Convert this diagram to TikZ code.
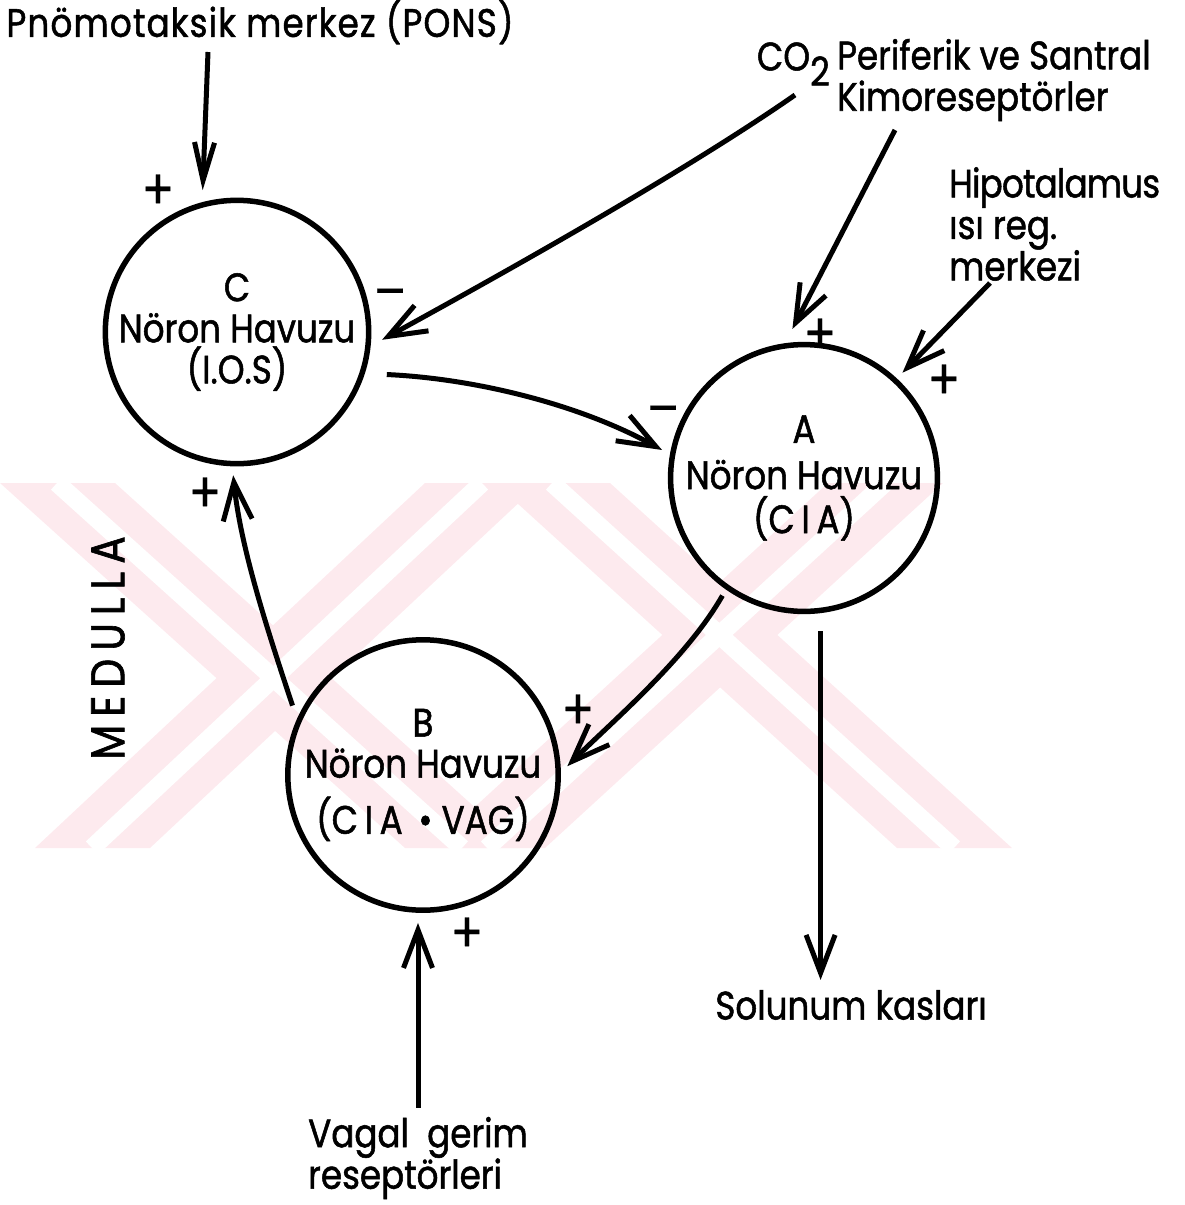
\documentclass[tikz,border=0pt]{standalone}
\usepackage{fontspec}
\setmainfont[FakeStretch=0.86,FakeBold=1.3,AutoFakeBold=1.3]{Poppins}
\usetikzlibrary{arrows.meta,calc}
\definecolor{filigran}{RGB}{253,234,238}
\tikzset{
  havuz/.style={circle, draw, line width=0.55mm, inner sep=0pt, align=center,
    font=\fontsize{11.3}{11.7}\selectfont},
  ok/.style={-{Straight Barb[length=3.8mm,width=2.9mm]}, line width=0.5mm},
  yazi/.style={inner sep=1pt, font=\fontsize{11.3}{11.8}\selectfont},
  isaret/.style={inner sep=0pt, font=\fontsize{16}{16}\selectfont\addfontfeature{FakeBold=0.2}},
}
\begin{document}
\begin{tikzpicture}[x=0.1mm,y=-0.1mm]
  \useasboundingbox (0,0) rectangle (1184,1205);
  % filigran
  \fill[filigran] (0,483) -- (115,483) -- (520,848) -- (405,848) -- cycle;
  \fill[filigran] (425,483) -- (540,483) -- (150,848) -- (35,848) -- cycle;
  \fill[filigran] (495,483) -- (610,483) -- (1012,848) -- (897,848) -- cycle;
  \fill[filigran] (828,483) -- (943,483) -- (545,848) -- (430,848) -- cycle;
  \foreach \u/\v in {57/462,482/92,552/954,885/487}
    \draw[white, line width=1.8mm] (\u,483) -- (\v,848);

  % noron havuzlari
  \node[havuz, minimum size=25.6mm] (C) at (237,332) {C\\Nöron Havuzu\\(I.O.S)};
  \node[havuz, minimum size=26.2mm] (A) at (804,478) {A\\[0.5mm]Nöron Havuzu\\[0.3mm](C\,I\,A)};
  \node[havuz, minimum size=26.2mm] (B) at (423,775) {B\\Nöron Havuzu\\[1.5mm](C\,I\,A\, • VAG)};

  % yazilar
  \node[yazi] (pons) at (260,22) {\addfontfeature{LetterSpace=3}Pnömotaksik merkez (PONS)};
  \node[yazi, align=left, anchor=west] (kemo) at (833,80) {Periferik ve Santral\\Kimoreseptörler};
  \node[yazi, anchor=east] (co2) at (834,64) {CO\raisebox{-0.7ex}{2}};
  \node[yazi, align=left, anchor=west] (hipo) at (945,224) {\addfontfeature{LetterSpace=-2}Hipotalamus\\ısı reg.\\merkezi};
  \node[yazi] (kas) at (851,1005) {Solunum kasları};
  \node[yazi, align=left] (vagal) at (418,1158) {Vagal\ \ gerim\\reseptörleri};
  \node[yazi, rotate=90, font=\fontsize{13.5}{14}\selectfont] (medulla) at (108,648) {\addfontfeature{LetterSpace=17}MEDULLA};

  % isaretler
  \node[isaret] (p1) at (158,192) {+};
  \node[isaret] (m1) at (390,300) {–};
  \node[isaret] (p2) at (820,336) {+};
  \node[isaret] (p3) at (944,382) {+};
  \node[isaret] (m2) at (663,417) {–};
  \node[isaret] (p4) at (578,712) {+};
  \node[isaret] (p5) at (205,495) {+};
  \node[isaret] (p6) at (467,935) {+};

  % baglantilar
  \coordinate (pons-uc) at (208,52);
  \coordinate (co2-uc) at (795,95);
  \coordinate (kemo-uc) at (895,130);
  \coordinate (hipo-uc) at (990,283);
  \draw[ok, -{Straight Barb[length=3.8mm,width=2mm]}, shorten >=1.2mm] (pons-uc) -- (C.105);
  \draw[ok, shorten >=1.3mm] (co2-uc) .. controls +(-115,80) and +(122,-67) .. (C.-6);
  \draw[ok, shorten >=1.6mm] (kemo-uc) -- (A.98);
  \draw[ok, shorten >=0.8mm] (hipo-uc) -- (A.47);
  \draw[ok, shorten <=2.2mm, shorten >=0.9mm] (C.-18) .. controls +(110,5) and +(-90,-50) .. (A.170);
  \draw[ok, shorten <=0.7mm, shorten >=0.9mm] (A.-125) .. controls +(-40,70) and +(50,-50) .. (B.1);
  \draw[ok, shorten <=1.8mm, shorten >=0.6mm] (A.-83) -- (A.-83 |- kas.north);
  \draw[ok, shorten <=1.4mm, shorten >=0.9mm] (B.156) .. controls +(-30,-90) and +(8,80) .. (C.-92);
  \draw[ok, shorten <=0.5mm, shorten >=1mm] (vagal.north) -- (vagal.north |- B.south);
\end{tikzpicture}
\end{document}
